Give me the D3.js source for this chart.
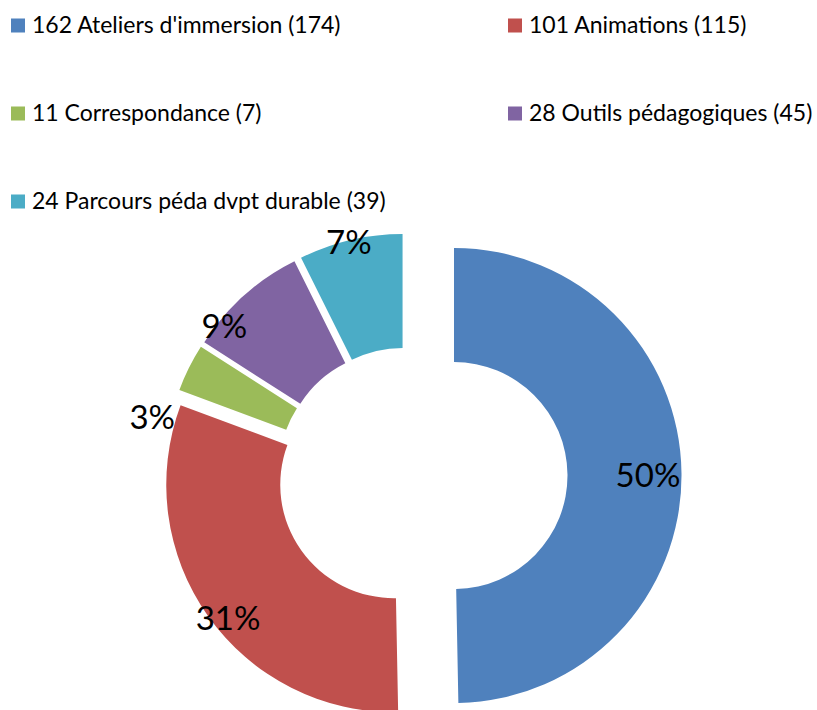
<!DOCTYPE html>
<html>
<head>
<meta charset="utf-8">
<script src="https://cdn.jsdelivr.net/npm/d3@7"></script>
<style>
  html, body { margin: 0; padding: 0; background: #fff; }
  svg { display: block; font-family: Lato, "Open Sans", sans-serif; }
</style>
</head>
<body>
<div id="chart"></div>
<script>
// Chart data
const labels = [
    "162 Ateliers d'immersion (174)",
    "101 Animations (115)",
    "11 Correspondance (7)",
    "28 Outils pédagogiques (45)",
    "24 Parcours péda dvpt durable (39)",
];
const values = [162, 101, 11, 28, 24];
const colors = ["#4F81BD", "#C0504D", "#9BBB59", "#8064A2", "#4BACC6"];

// Layout settings
const width = 817, height = 710;
const center = { x: 406, y: 476 };
const innerR = 113.5, outerR = 227.5;
const explode = [48, 15, 15, 15, 15];        // px offset per slice
const labelTurn = [0.5, -3.6, -14.2, -9, -0.5]; // degrees from slice mid-angle
const labelRadius = [194, 213, 246, 221, 226];

const svg = d3.select("#chart")
    .append("svg")
    .attr("width", width)
    .attr("height", height);

// Legend: two columns
const legend = svg.append("g").attr("class", "legend");
labels.forEach((lab, i) => {
    const col = i % 2, row = Math.floor(i / 2);
    const g = legend.append("g")
        .attr("transform", `translate(${col === 0 ? 11 : 508}, ${18.5 + row * 88})`);
    g.append("rect")
        .attr("width", 14)
        .attr("height", 14)
        .attr("fill", colors[i]);
    g.append("text")
        .attr("x", 21)
        .attr("y", 14)
        .attr("font-size", 23)
        .attr("fill", "#000")
        .text(lab);
});

// Donut
const pie = d3.pie().sort(null).value(d => d)(values);
const arc = d3.arc().innerRadius(innerR).outerRadius(outerR);
const total = d3.sum(values);

const slices = svg.append("g")
    .attr("transform", `translate(${center.x},${center.y})`);

pie.forEach((p, i) => {
    const mid = (p.startAngle + p.endAngle) / 2;
    const ox = explode[i] * Math.sin(mid);
    const oy = -explode[i] * Math.cos(mid);
    const g = slices.append("g").attr("transform", `translate(${ox},${oy})`);
    g.append("path")
        .attr("d", arc(p))
        .attr("fill", colors[i]);

    const la = mid + labelTurn[i] * Math.PI / 180;
    g.append("text")
        .attr("x", labelRadius[i] * Math.sin(la))
        .attr("y", -labelRadius[i] * Math.cos(la))
        .attr("dy", "0.36em")
        .attr("text-anchor", "middle")
        .attr("font-size", 33)
        .attr("fill", "#000")
        .text(Math.round(p.value / total * 100) + "%");
});
</script>
</body>
</html>
